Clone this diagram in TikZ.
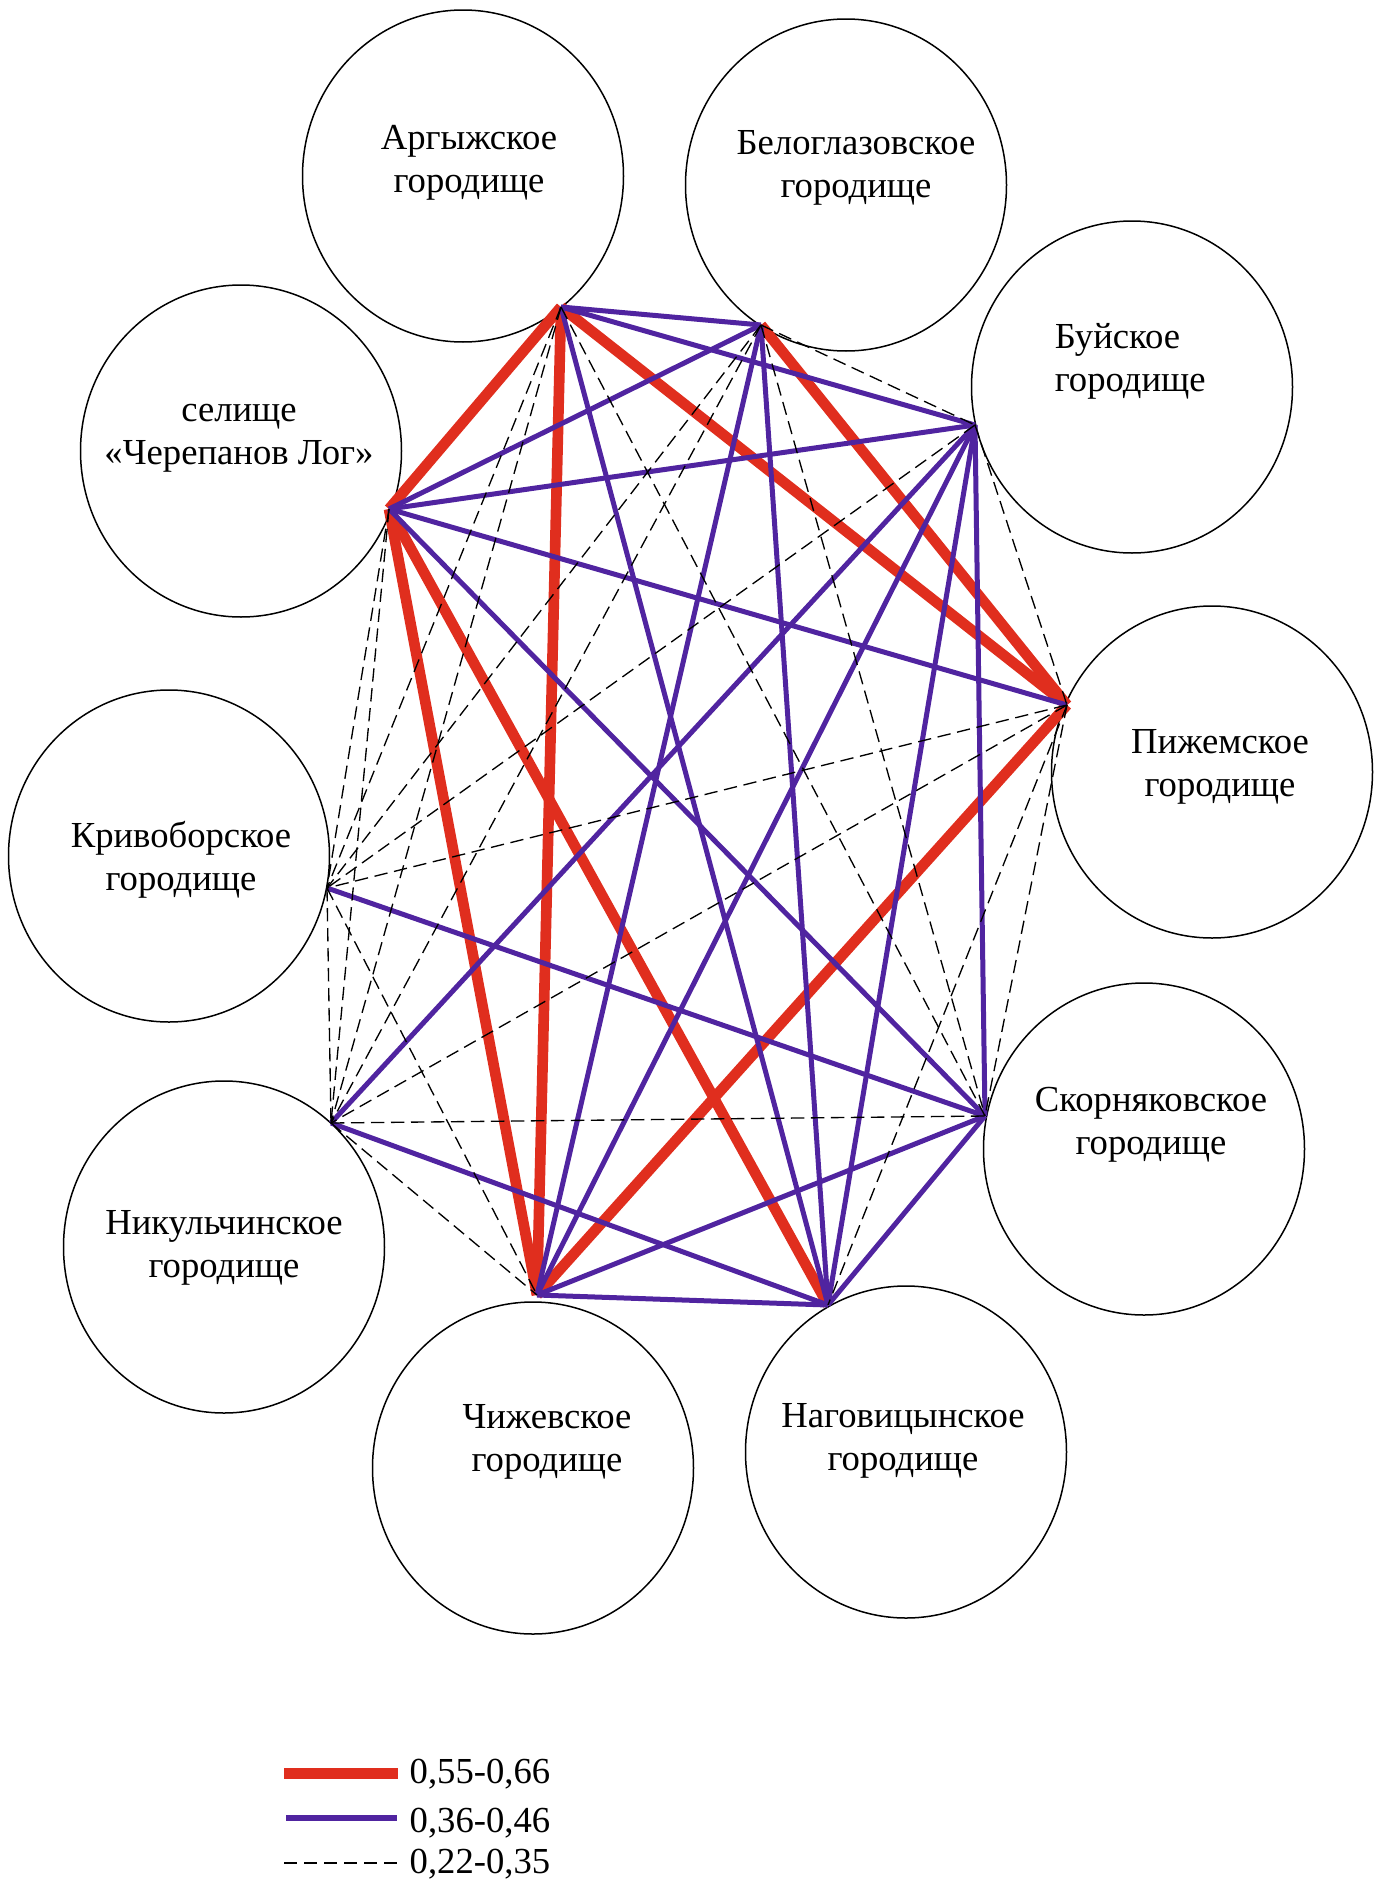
\documentclass[tikz,border=0pt]{standalone}
\usepackage{fontspec}
\setmainfont{Liberation Serif}
\usetikzlibrary{shapes.geometric}
\definecolor{strongred}{RGB}{224,46,30}
\definecolor{mediumviolet}{RGB}{80,36,160}

\begin{document}
\begin{tikzpicture}[x=0.3pt,y=-0.3pt,
	site/.style={ellipse,draw,line width=0.45pt,minimum width=96.3pt,minimum height=99.6pt,inner sep=0pt},
	site label/.style={align=center,font=\fontsize{11}{12.9}\selectfont},
	strong link/.style={draw=strongred,line width=3.2pt},
	medium link/.style={draw=mediumviolet,line width=1.5pt},
	weak link/.style={draw=black,line width=0.4pt,dash pattern=on 4pt off 2pt}]

	\useasboundingbox (0,0) rectangle (1381,1879);

	\node (argyzh)     [site] at (463,176)   {};
	\node (beloglazov) [site] at (846,185)   {};
	\node (buy)        [site] at (1132,387)  {};
	\node (cherepanov) [site] at (241,451)   {};
	\node (pizhma)     [site] at (1212,772)  {};
	\node (krivobor)   [site] at (169,856)   {};
	\node (skornyak)   [site] at (1144,1149) {};
	\node (nikulchin)  [site] at (224,1247)  {};
	\node (chizh)      [site] at (533,1468)  {};
	\node (nagovitsyn) [site] at (906,1452)  {};

	\node (argyzh label)     [site label] at (469,163)  {Аргыжское\\городище};
	\node (beloglazov label) [site label] at (856,168)  {Белоглазовское\\городище};
	\node (buy label)        [site label,align=left,anchor=west] at (1043,361) {Буйское\\городище};
	\node (cherepanov label) [site label] at (239,438)  {селище\\«Черепанов Лог»};
	\node (pizhma label)     [site label] at (1220,767) {Пижемское\\городище};
	\node (krivobor label)   [site label] at (181,860)  {Кривоборское\\городище};
	\node (skornyak label)   [site label] at (1151,1125) {Скорняковское\\городище};
	\node (nikulchin label)  [site label] at (224,1248) {Никульчинское\\городище};
	\node (chizh label)      [site label] at (547,1442) {Чижевское\\городище};
	\node (nagovitsyn label) [site label] at (903,1441) {Наговицынское\\городище};

	\coordinate (argyzh hub)     at (561,307);
	\coordinate (beloglazov hub) at (761,325);
	\coordinate (buy hub)        at (975,425);
	\coordinate (cherepanov hub) at (389,509);
	\coordinate (pizhma hub)     at (1067,705);
	\coordinate (krivobor hub)   at (327,888);
	\coordinate (skornyak hub)   at (985,1116);
	\coordinate (nikulchin hub)  at (331,1123);
	\coordinate (chizh hub)      at (537,1295);
	\coordinate (nagovitsyn hub) at (828,1305);

	\draw[strong link] (argyzh hub) -- (cherepanov hub);
	\draw[strong link] (argyzh hub) -- (chizh hub);
	\draw[strong link] (argyzh hub) -- (pizhma hub);
	\draw[strong link] (beloglazov hub) -- (pizhma hub);
	\draw[strong link] (cherepanov hub) -- (chizh hub);
	\draw[strong link] (cherepanov hub) -- (nagovitsyn hub);
	\draw[strong link] (pizhma hub) -- (chizh hub);

	\draw[medium link] (argyzh hub) -- (beloglazov hub);
	\draw[medium link] (argyzh hub) -- (buy hub);
	\draw[medium link] (argyzh hub) -- (nagovitsyn hub);
	\draw[medium link] (cherepanov hub) -- (beloglazov hub);
	\draw[medium link] (cherepanov hub) -- (buy hub);
	\draw[medium link] (cherepanov hub) -- (pizhma hub);
	\draw[medium link] (cherepanov hub) -- (skornyak hub);
	\draw[medium link] (beloglazov hub) -- (chizh hub);
	\draw[medium link] (beloglazov hub) -- (nagovitsyn hub);
	\draw[medium link] (buy hub) -- (nikulchin hub);
	\draw[medium link] (buy hub) -- (chizh hub);
	\draw[medium link] (buy hub) -- (nagovitsyn hub);
	\draw[medium link] (buy hub) -- (skornyak hub);
	\draw[medium link] (krivobor hub) -- (skornyak hub);
	\draw[medium link] (skornyak hub) -- (chizh hub);
	\draw[medium link] (skornyak hub) -- (nagovitsyn hub);
	\draw[medium link] (nikulchin hub) -- (nagovitsyn hub);
	\draw[medium link] (chizh hub) -- (nagovitsyn hub);

	\draw[weak link] (argyzh hub) -- (krivobor hub);
	\draw[weak link] (argyzh hub) -- (nikulchin hub);
	\draw[weak link] (argyzh hub) -- (skornyak hub);
	\draw[weak link] (beloglazov hub) -- (buy hub);
	\draw[weak link] (beloglazov hub) -- (krivobor hub);
	\draw[weak link] (beloglazov hub) -- (skornyak hub);
	\draw[weak link] (beloglazov hub) -- (nikulchin hub);
	\draw[weak link] (buy hub) -- (pizhma hub);
	\draw[weak link] (buy hub) -- (krivobor hub);
	\draw[weak link] (cherepanov hub) -- (krivobor hub);
	\draw[weak link] (cherepanov hub) -- (nikulchin hub);
	\draw[weak link] (pizhma hub) -- (krivobor hub);
	\draw[weak link] (pizhma hub) -- (nikulchin hub);
	\draw[weak link] (pizhma hub) -- (skornyak hub);
	\draw[weak link] (pizhma hub) -- (nagovitsyn hub);
	\draw[weak link] (krivobor hub) -- (nikulchin hub);
	\draw[weak link] (krivobor hub) -- (chizh hub);
	\draw[weak link] (nikulchin hub) -- (skornyak hub);
	\draw[weak link] (nikulchin hub) -- (chizh hub);

	\coordinate (strong key start) at (284,1773);
	\coordinate (strong key end)   at (398,1773);
	\coordinate (medium key start) at (286,1818);
	\coordinate (medium key end)   at (397,1818);
	\coordinate (weak key start)   at (284,1863);
	\coordinate (weak key end)     at (397,1863);
	\draw[strong link,line width=3.3pt] (strong key start) -- (strong key end);
	\draw[medium link,line width=1.6pt] (medium key start) -- (medium key end);
	\draw[weak link] (weak key start) -- (weak key end);
	\node (strong key label) [site label,anchor=base west,inner sep=0pt] at (409,1783) {0,55-0,66};
	\node (medium key label) [site label,anchor=base west,inner sep=0pt] at (409,1832) {0,36-0,46};
	\node (weak key label)   [site label,anchor=base west,inner sep=0pt] at (409,1873) {0,22-0,35};

\end{tikzpicture}
\end{document}
